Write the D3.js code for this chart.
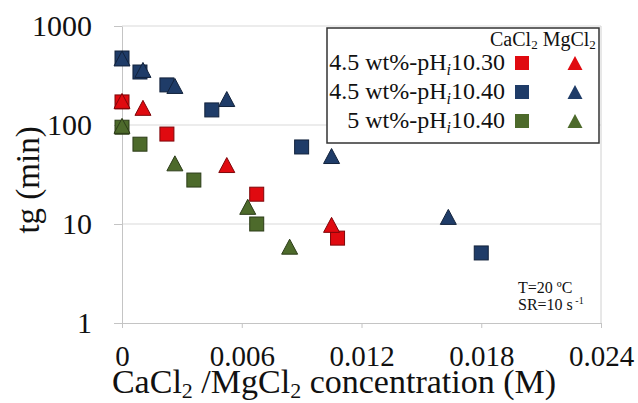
<!DOCTYPE html>
<html>
<head>
<meta charset="utf-8">
<script src="https://cdn.jsdelivr.net/npm/d3@7"></script>
<style>
  body { margin: 0; background: #fff; }
  .axis path, .axis line { stroke: #c4c4c4; }
</style>
</head>
<body>
<svg id="chart" width="638" height="403"></svg>
<script>
// series: CaCl2 = squares, MgCl2 = triangles
const seriesNames = ["4.5 wt%-pH", "4.5 wt%-pH", "5 wt%-pH"];
const seriesPh = ["10.30", "10.40", "10.40"];
const seriesColors = ["#e00a10", "#1f3c68", "#4d6a2b"];

const cacl2X = [
  [0, 0.00225, 0.00675, 0.0108],
  [0, 0.0009, 0.00225, 0.0045, 0.009, 0.018],
  [0, 0.0009, 0.0036, 0.00675]
];
const cacl2Tg = [
  [171, 81, 20, 7.2],
  [475, 343, 254, 142, 60, 5.1],
  [95, 64, 27.8, 10]
];
const mgcl2X = [
  [0, 0.00105, 0.00525, 0.0105],
  [0, 0.00105, 0.00265, 0.00525, 0.0105, 0.01635],
  [0, 0.00265, 0.0063, 0.0084]
];
const mgcl2Tg = [
  [175, 149, 39.4, 9.8],
  [470, 360, 248, 183, 48.6, 11.8],
  [98, 41, 14.9, 5.9]
];

const xTicks = [0, 0.006, 0.012, 0.018, 0.024];
const yTicks = [1, 10, 100, 1000];

const serif = "'Liberation Serif', 'DejaVu Serif', serif";

let svg = d3.select("#chart").attr("font-family", serif),
  margin = { top: 26, right: 37, bottom: 80, left: 122 },
  width = 638 - margin.left - margin.right,
  height = 403 - margin.top - margin.bottom;

let x = d3.scaleLinear().domain([0, 0.024]).range([0, width]),
  y = d3.scaleLog().domain([1, 1000]).range([height, 0]);

let g = svg.append("g")
  .attr("transform", "translate(" + margin.left + "," + margin.top + ")");

// gridlines
g.append("g")
  .selectAll("line")
  .data(yTicks.slice(1))
  .enter()
  .append("line")
  .attr("x1", 0)
  .attr("x2", width)
  .attr("y1", d => y(d))
  .attr("y2", d => y(d))
  .attr("stroke", "#d9d9d9");

// right border of plot area
g.append("line")
  .attr("x1", width).attr("x2", width)
  .attr("y1", 0).attr("y2", height)
  .attr("stroke", "#d0d0d0");

g.append("g")
  .attr("class", "axis axis--x")
  .attr("transform", "translate(0," + height + ")")
  .call(d3.axisBottom(x)
    .tickValues(xTicks)
    .tickSize(5)
    .tickPadding(17)
    .tickSizeOuter(0)
    .tickFormat(d => d === 0 ? "0" : d3.format(".3f")(d)))
  .call(a => a.attr("font-family", serif).attr("font-size", 29))
  .call(a => a.selectAll("text").attr("fill", "#111"));

g.append("g")
  .attr("class", "axis axis--y")
  .call(d3.axisLeft(y)
    .tickValues(yTicks)
    .tickSize(8)
    .tickPadding(22)
    .tickSizeOuter(0)
    .tickFormat(d3.format("d")))
  .call(a => a.attr("font-family", serif).attr("font-size", 30))
  .call(a => a.selectAll("text").attr("fill", "#111"));

// axis titles
let xt = svg.append("text")
  .attr("x", 334)
  .attr("y", 393)
  .attr("text-anchor", "middle")
  .attr("font-size", 34)
  .attr("fill", "#111");
xt.append("tspan").text("CaCl");
xt.append("tspan").attr("font-size", 22).attr("dy", 5).text("2");
xt.append("tspan").attr("dy", -5).text(" /MgCl");
xt.append("tspan").attr("font-size", 22).attr("dy", 5).text("2");
xt.append("tspan").attr("dy", -5).text(" concentration (M)");

svg.append("text")
  .attr("transform", "translate(39,180) rotate(-90)")
  .attr("text-anchor", "middle")
  .attr("font-size", 33)
  .attr("fill", "#111")
  .text("tg (min)");

// markers
const sq = 14, triW = 16, triH = 15;
function trianglePath(w, h) {
  return `M0,${-h / 2}L${w / 2},${h / 2}L${-w / 2},${h / 2}Z`;
}

function drawSquares(group, xs, ys, color) {
  group.selectAll(null)
    .data(xs.map((d, i) => ({ x: d, tg: ys[i] })))
    .enter()
    .append("rect")
    .attr("x", d => x(d.x) - sq / 2)
    .attr("y", d => y(d.tg) - sq / 2)
    .attr("width", sq)
    .attr("height", sq)
    .attr("fill", color)
    .attr("stroke", d3.color(color).darker(1.6))
    .attr("stroke-width", 1);
}

function drawTriangles(group, xs, ys, color) {
  group.selectAll(null)
    .data(xs.map((d, i) => ({ x: d, tg: ys[i] })))
    .enter()
    .append("path")
    .attr("d", trianglePath(triW, triH))
    .attr("transform", d => `translate(${x(d.x)},${y(d.tg)})`)
    .attr("fill", color)
    .attr("stroke", d3.color(color).darker(1.6))
    .attr("stroke-width", 1);
}

let marks = g.append("g");
seriesColors.forEach((c, i) => drawSquares(marks, cacl2X[i], cacl2Tg[i], c));
seriesColors.forEach((c, i) => drawTriangles(marks, mgcl2X[i], mgcl2Tg[i], c));

// legend
let legend = svg.append("g").attr("transform", "translate(327,28)");
legend.append("rect")
  .attr("width", 272)
  .attr("height", 115)
  .attr("fill", "#fff")
  .attr("stroke", "#333")
  .attr("stroke-width", 1.5);

let head = legend.append("text")
  .attr("x", 163)
  .attr("y", 18)
  .attr("font-size", 20)
  .attr("fill", "#111");
head.append("tspan").text("CaCl");
head.append("tspan").attr("font-size", 13).attr("dy", 3).text("2");
head.append("tspan").attr("dy", -3).text(" MgCl");
head.append("tspan").attr("font-size", 13).attr("dy", 3).text("2");

const rowY = [42, 71, 100];
seriesNames.forEach((name, i) => {
  let t = legend.append("text")
    .attr("x", 178)
    .attr("y", rowY[i])
    .attr("text-anchor", "end")
    .attr("font-size", 24)
    .attr("fill", "#111");
  t.append("tspan").text(name);
  t.append("tspan").attr("font-size", 16).attr("font-style", "italic").attr("dy", 5).text("i");
  t.append("tspan").attr("dy", -5).text(seriesPh[i]);

  legend.append("rect")
    .attr("x", 195 - 7)
    .attr("y", rowY[i] - 7 - 7)
    .attr("width", 14)
    .attr("height", 14)
    .attr("fill", seriesColors[i]);
  legend.append("path")
    .attr("d", trianglePath(15, 14))
    .attr("transform", `translate(248,${rowY[i] - 7})`)
    .attr("fill", seriesColors[i]);
});

// conditions note
let note = svg.append("g").attr("font-size", 16).attr("fill", "#111");
note.append("text").attr("x", 518).attr("y", 293).text("T=20 ºC");
let sr = note.append("text").attr("x", 518).attr("y", 310);
sr.append("tspan").text("SR=10 s");
sr.append("tspan").attr("font-size", 10).attr("dy", -6).text(" -1");
</script>
</body>
</html>
